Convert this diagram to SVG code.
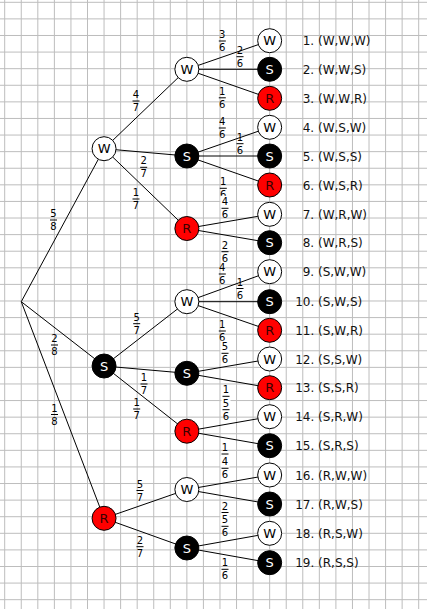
<svg xmlns="http://www.w3.org/2000/svg" width="427" height="609" viewBox="0 0 427 609">
<style>
.grid{stroke:#bdbdbd;stroke-width:1;fill:none}
.edge{stroke:#000;stroke-width:1;fill:none}
.node circle{stroke:#000;stroke-width:1}
.w circle{fill:#fff}
.s circle{fill:#000}
.r circle{fill:#f00}
.node text{font-family:"DejaVu Sans",Verdana,sans-serif;font-size:13px;text-anchor:middle}
.w text{fill:#000}
.s text{fill:#fff}
.r text{fill:#3a0000}
.lbl{font-family:"DejaVu Sans",Verdana,sans-serif;font-size:12px;fill:#111}
.fr text{font-family:"DejaVu Sans",Verdana,sans-serif;font-size:10px;text-anchor:middle;fill:#000}
.fr line{stroke:#000;stroke-width:1}
.fr rect{fill:#fff}
</style>
<rect width="427" height="609" fill="#fff"/>
<path class="grid" d="M4.7 0V609M21.26 0V609M37.82 0V609M54.38 0V609M70.94 0V609M87.5 0V609M104.06 0V609M120.62 0V609M137.18 0V609M153.74 0V609M170.3 0V609M186.86 0V609M203.42 0V609M219.98 0V609M236.54 0V609M253.1 0V609M269.66 0V609M286.22 0V609M302.78 0V609M319.34 0V609M335.9 0V609M352.46 0V609M369.02 0V609M385.58 0V609M402.14 0V609M418.7 0V609M0 2.3H427M0 18.89H427M0 35.49H427M0 52.08H427M0 68.68H427M0 85.27H427M0 101.86H427M0 118.46H427M0 135.05H427M0 151.65H427M0 168.24H427M0 184.83H427M0 201.43H427M0 218.02H427M0 234.62H427M0 251.21H427M0 267.8H427M0 284.4H427M0 300.99H427M0 317.59H427M0 334.18H427M0 350.77H427M0 367.37H427M0 383.96H427M0 400.56H427M0 417.15H427M0 433.74H427M0 450.34H427M0 466.93H427M0 483.53H427M0 500.12H427M0 516.71H427M0 533.31H427M0 549.9H427M0 566.5H427M0 583.09H427M0 599.68H427"/>
<g id="connectors" class="edge">
<line x1="21.26" y1="301.7" x2="104.06" y2="148.7"/>
<line x1="21.26" y1="301.7" x2="104.06" y2="366"/>
<line x1="21.26" y1="301.7" x2="104.06" y2="518.3"/>
<line x1="104.06" y1="148.7" x2="186.86" y2="69.3"/>
<line x1="104.06" y1="148.7" x2="186.86" y2="156"/>
<line x1="104.06" y1="148.7" x2="186.86" y2="228.5"/>
<line x1="104.06" y1="366" x2="186.86" y2="301.7"/>
<line x1="104.06" y1="366" x2="186.86" y2="373.3"/>
<line x1="104.06" y1="366" x2="186.86" y2="431.2"/>
<line x1="104.06" y1="518.3" x2="186.86" y2="489.5"/>
<line x1="104.06" y1="518.3" x2="186.86" y2="548"/>
<line x1="186.86" y1="69.3" x2="269.66" y2="40.7"/>
<line x1="186.86" y1="69.3" x2="269.66" y2="69.3"/>
<line x1="186.86" y1="69.3" x2="269.66" y2="98.3"/>
<line x1="186.86" y1="156" x2="269.66" y2="127.3"/>
<line x1="186.86" y1="156" x2="269.66" y2="156"/>
<line x1="186.86" y1="156" x2="269.66" y2="185"/>
<line x1="186.86" y1="228.5" x2="269.66" y2="214.3"/>
<line x1="186.86" y1="228.5" x2="269.66" y2="242.7"/>
<line x1="186.86" y1="301.7" x2="269.66" y2="271.7"/>
<line x1="186.86" y1="301.7" x2="269.66" y2="301.7"/>
<line x1="186.86" y1="301.7" x2="269.66" y2="330.3"/>
<line x1="186.86" y1="373.3" x2="269.66" y2="359"/>
<line x1="186.86" y1="373.3" x2="269.66" y2="387.7"/>
<line x1="186.86" y1="431.2" x2="269.66" y2="416.7"/>
<line x1="186.86" y1="431.2" x2="269.66" y2="445.7"/>
<line x1="186.86" y1="489.5" x2="269.66" y2="475"/>
<line x1="186.86" y1="489.5" x2="269.66" y2="504"/>
<line x1="186.86" y1="548" x2="269.66" y2="533.3"/>
<line x1="186.86" y1="548" x2="269.66" y2="562.7"/>
</g>
<g id="fractions">
<g class="fr" transform="translate(53.5,220)"><text y="-3">5</text><line x1="-3.5" x2="3.5"/><text y="10">8</text></g>
<g class="fr" transform="translate(54.5,345)"><text y="-3">2</text><line x1="-3.5" x2="3.5"/><text y="10">8</text></g>
<g class="fr" transform="translate(54.5,414.5)"><text y="-3">1</text><line x1="-3.5" x2="3.5"/><text y="10">8</text></g>
<g class="fr" transform="translate(136,101)"><text y="-3">4</text><line x1="-3.5" x2="3.5"/><text y="10">7</text></g>
<g class="fr" transform="translate(143.7,167.3)"><text y="-3">2</text><line x1="-3.5" x2="3.5"/><text y="10">7</text></g>
<g class="fr" transform="translate(136,199)"><text y="-3">1</text><line x1="-3.5" x2="3.5"/><text y="10">7</text></g>
<g class="fr" transform="translate(136.7,323.7)"><text y="-3">5</text><line x1="-3.5" x2="3.5"/><text y="10">7</text></g>
<g class="fr" transform="translate(144,384)"><text y="-3">1</text><line x1="-3.5" x2="3.5"/><text y="10">7</text></g>
<g class="fr" transform="translate(136.7,409)"><text y="-3">1</text><line x1="-3.5" x2="3.5"/><text y="10">7</text></g>
<g class="fr" transform="translate(140,490.5)"><text y="-3">5</text><line x1="-3.5" x2="3.5"/><text y="10">7</text></g>
<g class="fr" transform="translate(140,546.7)"><text y="-3">2</text><line x1="-3.5" x2="3.5"/><text y="10">7</text></g>
<g class="fr" transform="translate(222.3,41)"><text y="-3">3</text><line x1="-3.5" x2="3.5"/><text y="10">6</text></g>
<g class="fr" transform="translate(240,56.7)"><text y="-3">2</text><line x1="-3.5" x2="3.5"/><text y="10">6</text></g>
<g class="fr" transform="translate(222.3,97.8)"><text y="-3">1</text><line x1="-3.5" x2="3.5"/><text y="10">6</text></g>
<g class="fr" transform="translate(222.3,128)"><text y="-3">4</text><line x1="-3.5" x2="3.5"/><text y="10">6</text></g>
<g class="fr" transform="translate(240,143.7)"><text y="-3">1</text><line x1="-3.5" x2="3.5"/><text y="10">6</text></g>
<g class="fr" transform="translate(223.3,188.3)"><text y="-3">1</text><line x1="-3.5" x2="3.5"/><text y="10">6</text></g>
<g class="fr" transform="translate(225,208.3)"><rect x="-4.5" y="-12.5" width="9" height="11.5"/><text y="-3">4</text><line x1="-3.5" x2="3.5"/><text y="10">6</text></g>
<g class="fr" transform="translate(225,251.7)"><text y="-3">2</text><line x1="-3.5" x2="3.5"/><text y="10">6</text></g>
<g class="fr" transform="translate(222.3,274)"><text y="-3">4</text><line x1="-3.5" x2="3.5"/><text y="10">6</text></g>
<g class="fr" transform="translate(240,288.5)"><text y="-3">1</text><line x1="-3.5" x2="3.5"/><text y="10">6</text></g>
<g class="fr" transform="translate(222.3,331)"><text y="-3">1</text><line x1="-3.5" x2="3.5"/><text y="10">6</text></g>
<g class="fr" transform="translate(225,353.3)"><rect x="-4.5" y="-12.5" width="9" height="11.5"/><text y="-3">5</text><line x1="-3.5" x2="3.5"/><text y="10">6</text></g>
<g class="fr" transform="translate(226,396.3)"><text y="-3">1</text><line x1="-3.5" x2="3.5"/><text y="10">6</text></g>
<g class="fr" transform="translate(226,409.7)"><rect x="-4.5" y="-12.5" width="9" height="11.5"/><text y="-3">5</text><line x1="-3.5" x2="3.5"/><text y="10">6</text></g>
<g class="fr" transform="translate(225,454)"><text y="-3">1</text><line x1="-3.5" x2="3.5"/><text y="10">6</text></g>
<g class="fr" transform="translate(225,468.3)"><rect x="-4.5" y="-12.5" width="9" height="11.5"/><text y="-3">4</text><line x1="-3.5" x2="3.5"/><text y="10">6</text></g>
<g class="fr" transform="translate(225,512.5)"><text y="-3">2</text><line x1="-3.5" x2="3.5"/><text y="10">6</text></g>
<g class="fr" transform="translate(225,526.3)"><rect x="-4.5" y="-12.5" width="9" height="11.5"/><text y="-3">5</text><line x1="-3.5" x2="3.5"/><text y="10">6</text></g>
<g class="fr" transform="translate(225,569.3)"><text y="-3">1</text><line x1="-3.5" x2="3.5"/><text y="10">6</text></g>
</g>
<g id="n1W" class="node w"><circle cx="104.06" cy="148.7" r="12"/><text x="104.06" y="153.4">W</text></g>
<g id="n1S" class="node s"><circle cx="104.06" cy="366" r="12"/><text x="104.06" y="370.7">S</text></g>
<g id="n1R" class="node r"><circle cx="104.06" cy="518.3" r="12"/><text x="104.06" y="523">R</text></g>
<g id="n2WW" class="node w"><circle cx="186.86" cy="69.3" r="12"/><text x="186.86" y="74">W</text></g>
<g id="n2WS" class="node s"><circle cx="186.86" cy="156" r="12"/><text x="186.86" y="160.7">S</text></g>
<g id="n2WR" class="node r"><circle cx="186.86" cy="228.5" r="12"/><text x="186.86" y="233.2">R</text></g>
<g id="n2SW" class="node w"><circle cx="186.86" cy="301.7" r="12"/><text x="186.86" y="306.4">W</text></g>
<g id="n2SS" class="node s"><circle cx="186.86" cy="373.3" r="12"/><text x="186.86" y="378">S</text></g>
<g id="n2SR" class="node r"><circle cx="186.86" cy="431.2" r="12"/><text x="186.86" y="435.9">R</text></g>
<g id="n2RW" class="node w"><circle cx="186.86" cy="489.5" r="12"/><text x="186.86" y="494.2">W</text></g>
<g id="n2RS" class="node s"><circle cx="186.86" cy="548" r="12"/><text x="186.86" y="552.7">S</text></g>
<g id="leaf1" class="node w"><circle cx="269.66" cy="40.7" r="12"/><text x="269.66" y="45.4">W</text></g>
<g id="leaf2" class="node s"><circle cx="269.66" cy="69.3" r="12"/><text x="269.66" y="74">S</text></g>
<g id="leaf3" class="node r"><circle cx="269.66" cy="98.3" r="12"/><text x="269.66" y="103">R</text></g>
<g id="leaf4" class="node w"><circle cx="269.66" cy="127.3" r="12"/><text x="269.66" y="132">W</text></g>
<g id="leaf5" class="node s"><circle cx="269.66" cy="156" r="12"/><text x="269.66" y="160.7">S</text></g>
<g id="leaf6" class="node r"><circle cx="269.66" cy="185" r="12"/><text x="269.66" y="189.7">R</text></g>
<g id="leaf7" class="node w"><circle cx="269.66" cy="214.3" r="12"/><text x="269.66" y="219">W</text></g>
<g id="leaf8" class="node s"><circle cx="269.66" cy="242.7" r="12"/><text x="269.66" y="247.4">S</text></g>
<g id="leaf9" class="node w"><circle cx="269.66" cy="271.7" r="12"/><text x="269.66" y="276.4">W</text></g>
<g id="leaf10" class="node s"><circle cx="269.66" cy="301.7" r="12"/><text x="269.66" y="306.4">S</text></g>
<g id="leaf11" class="node r"><circle cx="269.66" cy="330.3" r="12"/><text x="269.66" y="335">R</text></g>
<g id="leaf12" class="node w"><circle cx="269.66" cy="359" r="12"/><text x="269.66" y="363.7">W</text></g>
<g id="leaf13" class="node r"><circle cx="269.66" cy="387.7" r="12"/><text x="269.66" y="392.4">R</text></g>
<g id="leaf14" class="node w"><circle cx="269.66" cy="416.7" r="12"/><text x="269.66" y="421.4">W</text></g>
<g id="leaf15" class="node s"><circle cx="269.66" cy="445.7" r="12"/><text x="269.66" y="450.4">S</text></g>
<g id="leaf16" class="node w"><circle cx="269.66" cy="475" r="12"/><text x="269.66" y="479.7">W</text></g>
<g id="leaf17" class="node s"><circle cx="269.66" cy="504" r="12"/><text x="269.66" y="508.7">S</text></g>
<g id="leaf18" class="node w"><circle cx="269.66" cy="533.3" r="12"/><text x="269.66" y="538">W</text></g>
<g id="leaf19" class="node s"><circle cx="269.66" cy="562.7" r="12"/><text x="269.66" y="567.4">S</text></g>
<g id="labels" class="lbl">
<text x="302.7" y="45.2">1. (W,W,W)</text>
<text x="302.7" y="73.8">2. (W,W,S)</text>
<text x="302.7" y="102.8">3. (W,W,R)</text>
<text x="302.7" y="131.8">4. (W,S,W)</text>
<text x="302.7" y="160.5">5. (W,S,S)</text>
<text x="302.7" y="189.5">6. (W,S,R)</text>
<text x="302.7" y="218.8">7. (W,R,W)</text>
<text x="302.7" y="247.2">8. (W,R,S)</text>
<text x="302.7" y="276.2">9. (S,W,W)</text>
<text x="295.2" y="306.2">10. (S,W,S)</text>
<text x="295.2" y="334.8">11. (S,W,R)</text>
<text x="295.2" y="363.5">12. (S,S,W)</text>
<text x="295.2" y="392.2">13. (S,S,R)</text>
<text x="295.2" y="421.2">14. (S,R,W)</text>
<text x="295.2" y="450.2">15. (S,R,S)</text>
<text x="295.2" y="479.5">16. (R,W,W)</text>
<text x="295.2" y="508.5">17. (R,W,S)</text>
<text x="295.2" y="537.8">18. (R,S,W)</text>
<text x="295.2" y="567.2">19. (R,S,S)</text>
</g>
</svg>
